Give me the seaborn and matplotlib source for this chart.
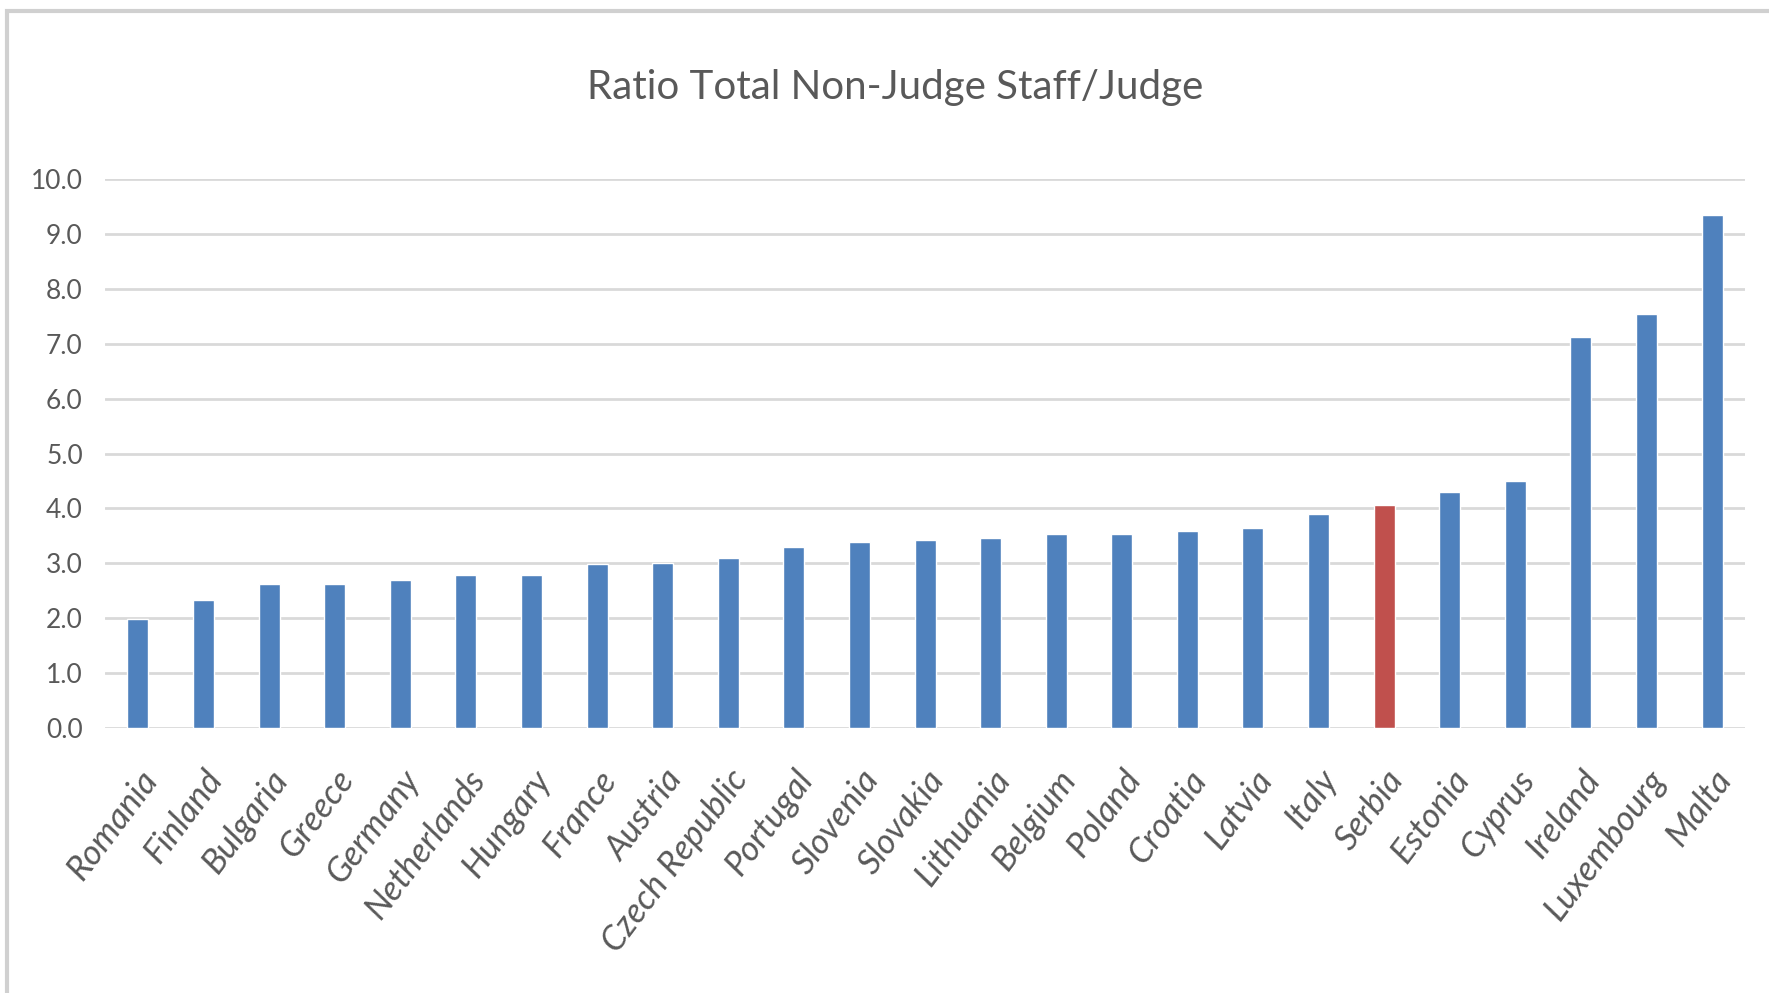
import numpy as np
import pandas as pd
import matplotlib.pyplot as plt
import matplotlib.patches as mpatches
import seaborn as sns

# Values
countries = ['Romania', 'Finland', 'Bulgaria', 'Greece', 'Germany', 'Netherlands',
             'Hungary', 'France', 'Austria', 'Czech Republic', 'Portugal', 'Slovenia',
             'Slovakia', 'Lithuania', 'Belgium', 'Poland', 'Croatia', 'Latvia', 'Italy',
             'Serbia', 'Estonia', 'Cyprus', 'Ireland', 'Luxembourg', 'Malta']
ratios = [1.98, 2.34, 2.62, 2.62, 2.69, 2.78, 2.78, 2.98, 3.01, 3.09, 3.29, 3.38,
          3.42, 3.46, 3.53, 3.53, 3.58, 3.65, 3.90, 4.06, 4.30, 4.50, 7.13, 7.54, 9.34]
highlight = 'Serbia'
y_ticks = [0.0, 1.0, 2.0, 3.0, 4.0, 5.0, 6.0, 7.0, 8.0, 9.0, 10.0]

df = pd.DataFrame({'country': countries, 'ratio': ratios})
df['group'] = np.where(df['country'] == highlight, 'hl', 'other')

sns.set_style('white')
plt.rcParams['font.family'] = ['Lato', 'DejaVu Sans']
text_col = '#595959'

fig = plt.figure(figsize=(17.69, 9.93), dpi=100)
ax = fig.add_axes([0.0594, 0.2669, 0.9270, 0.5528])

sns.barplot(data=df, x='country', y='ratio', hue='group',
            palette={'other': '#4f81bd', 'hl': '#c0504d'}, saturation=1,
            width=0.32, dodge=False, legend=False, ax=ax, zorder=3)

ax.set_xlim(-0.5, len(countries) - 0.5)
ax.set_ylim(0, 10)
ax.set_yticks(y_ticks)
ax.set_yticklabels([f'{v:.1f}' for v in y_ticks], fontsize=19, color=text_col)
ax.yaxis.grid(True, color='#d9d9d9', linewidth=2, zorder=0)
ax.set_axisbelow(True)
for s in ax.spines.values():
    s.set_visible(False)
ax.tick_params(axis='both', length=0)
ax.tick_params(axis='y', pad=16)
ax.set_xlabel('')
ax.set_ylabel('')

ax.set_xticks(range(len(countries)))
ax.set_xticklabels(countries, rotation=53, ha='right', rotation_mode='anchor',
                   fontsize=25, style='italic', color=text_col)
ax.tick_params(axis='x', pad=26)

fig.text(0.506, 0.912, 'Ratio Total Non-Judge Staff/Judge', ha='center', va='center',
         fontsize=29, color=text_col)

# light frame around the chart area (only top and left are visible in the crop)
fig.patches.append(mpatches.Rectangle((7 / 1769, -0.1), 1.2, 1.1 - 11 / 993,
                                      transform=fig.transFigure, fill=False,
                                      edgecolor='#d0d0d0', linewidth=3))

fig.savefig('out.png', dpi=100)
